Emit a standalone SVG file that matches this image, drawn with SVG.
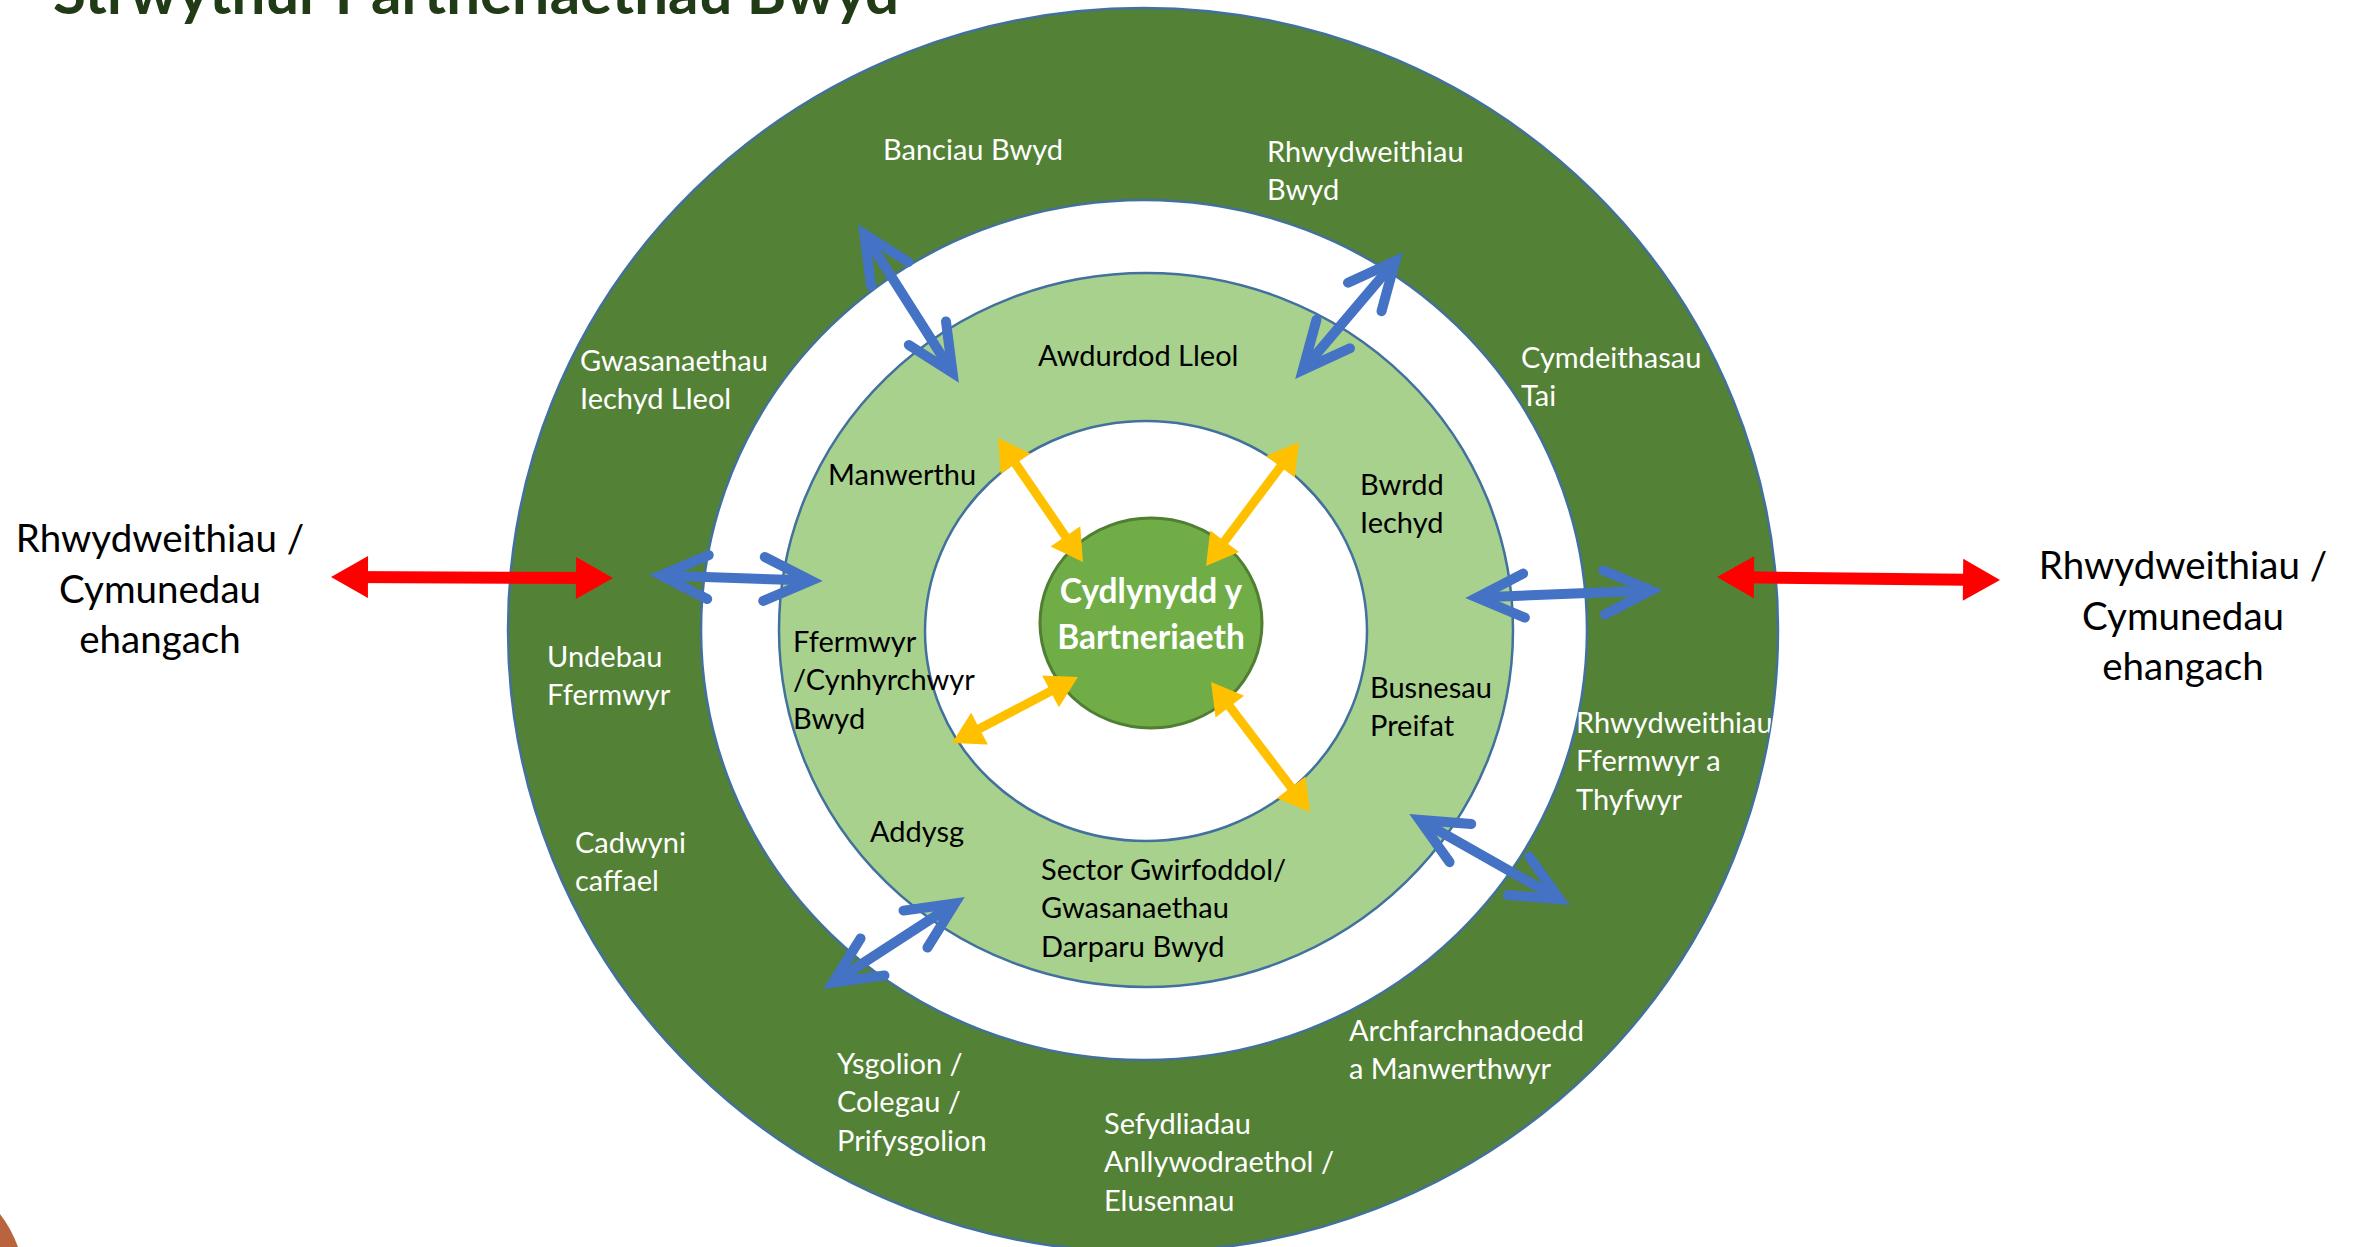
<svg xmlns="http://www.w3.org/2000/svg" width="2356" height="1247" viewBox="0 0 2356 1247">
  <style>
    text { font-family: Lato, "Open Sans", "Liberation Sans", sans-serif; }
    .ring { stroke: #41719C; stroke-width: 2.5; }
    .lw { fill: #ffffff; font-size: 29px; }
    .lb { fill: #000000; font-size: 29px; }
    .ctr { fill: #ffffff; font-size: 33.5px; font-weight: bold; text-anchor: middle; }
    .side { fill: #000000; font-size: 38.5px; text-anchor: middle; }
    .title { fill: #213B16; font-size: 60px; font-weight: bold; }
    .blue { stroke: #4472C4; stroke-width: 10; fill: none; marker-start: url(#mBlue); marker-end: url(#mBlue); }
    .yel { stroke: #FFC000; stroke-width: 9; fill: none; marker-start: url(#mYel); marker-end: url(#mYel); }
    .red { stroke: #FF0000; stroke-width: 12; fill: none; marker-start: url(#mRed); marker-end: url(#mRed); }
  </style>
  <defs>
    <marker id="mBlue" markerUnits="userSpaceOnUse" viewBox="-70 -40 100 80" markerWidth="100" markerHeight="80" refX="0" refY="0" orient="auto-start-reverse" overflow="visible">
      <path d="M -47,-22 L 0,0 L -47,22" fill="none" stroke="#4472C4" stroke-width="10" stroke-linecap="round" stroke-linejoin="miter"/>
    </marker>
    <marker id="mYel" markerUnits="userSpaceOnUse" viewBox="-40 -30 70 60" markerWidth="70" markerHeight="60" refX="0" refY="0" orient="auto-start-reverse" overflow="visible">
      <path d="M 10,0 L -21,-18 L -21,18 Z" fill="#FFC000"/>
    </marker>
    <marker id="mRed" markerUnits="userSpaceOnUse" viewBox="-40 -30 70 60" markerWidth="70" markerHeight="60" refX="0" refY="0" orient="auto-start-reverse" overflow="visible">
      <path d="M 12,0 L -25,-21 L -25,21 Z" fill="#FF0000"/>
    </marker>
    <clipPath id="outerClip">
      <ellipse cx="1143" cy="630" rx="635" ry="622"/>
    </clipPath>
  </defs>

  <rect width="2356" height="1247" fill="#ffffff"/>

  <!-- decorative corner shape -->
  <path d="M0,1214 Q11,1228 18,1247 L0,1247 Z" fill="#B9643F"/>

  <!-- title -->
  <text class="title" x="53" y="14">Strwythur Partneriaethau Bwyd</text>

  <!-- rings -->
  <g id="rings">
    <ellipse id="ring-outer" class="ring" cx="1143" cy="630" rx="635" ry="622" fill="#538135"/>
    <ellipse id="ring-gap" class="ring" cx="1144" cy="630" rx="443" ry="430" fill="#ffffff"/>
    <ellipse id="ring-light" class="ring" cx="1146" cy="630" rx="367" ry="357" fill="#A9D18E"/>
    <ellipse id="ring-inner" class="ring" cx="1146" cy="631" rx="221" ry="210" fill="#ffffff"/>
  </g>

  <g id="center">
    <ellipse cx="1151" cy="623" rx="111" ry="105" fill="#70AD47" stroke="#507E32" stroke-width="3"/>
    <text class="ctr" x="1151" y="603">Cydlynydd y</text>
    <text class="ctr" x="1151" y="649">Bartneriaeth</text>
  </g>

  <!-- connectors -->
  <g id="connectors">
    <line class="blue" x1="864.4" y1="234.1" x2="952.6" y2="372.9"/>
    <line class="blue" x1="1395.2" y1="261.1" x2="1302.8" y2="369.9"/>
    <line class="blue" x1="661" y1="575.4" x2="811" y2="580.6"/>
    <line class="blue" x1="1477" y1="597.5" x2="1651" y2="590.5"/>
    <line class="blue" x1="833.1" y1="982.5" x2="954.9" y2="903.5"/>
    <line class="blue" x1="1419.5" y1="819.9" x2="1559.5" y2="899.1"/>
    <line class="yel" x1="1003.7" y1="446.3" x2="1077.3" y2="553.7"/>
    <line class="yel" x1="1293" y1="450" x2="1212" y2="558"/>
    <line class="yel" x1="960.9" y1="738.4" x2="1069.1" y2="681.6"/>
    <line class="yel" x1="1217.1" y1="690" x2="1303.9" y2="804"/>
    <line class="red" x1="343" y1="577" x2="601" y2="578"/>
    <line class="red" x1="1729" y1="577.1" x2="1988" y2="579.9"/>
  </g>

  <!-- outer ring labels -->
  <g id="outer-labels" clip-path="url(#outerClip)">
    <g id="banciau-bwyd"><text class="lw" x="883" y="160">Banciau Bwyd</text></g>
    <g id="rhwydweithiau-bwyd"><text class="lw" x="1267" y="162">Rhwydweithiau<tspan x="1267" dy="38.4">Bwyd</tspan></text></g>
    <g id="gwasanaethau-iechyd"><text class="lw" x="580" y="371">Gwasanaethau<tspan x="580" dy="38.4">Iechyd Lleol</tspan></text></g>
    <g id="cymdeithasau-tai"><text class="lw" x="1521" y="368">Cymdeithasau<tspan x="1521" dy="38.4">Tai</tspan></text></g>
    <g id="undebau-ffermwyr"><text class="lw" x="547" y="667">Undebau<tspan x="547" dy="38.4">Ffermwyr</tspan></text></g>
    <g id="rhwydweithiau-ffermwyr"><text class="lw" x="1576" y="733">Rhwydweithiau<tspan x="1576" dy="38.4">Ffermwyr a</tspan><tspan x="1576" dy="38.4">Thyfwyr</tspan></text></g>
    <g id="cadwyni-caffael"><text class="lw" x="575" y="853">Cadwyni<tspan x="575" dy="38.4">caffael</tspan></text></g>
    <g id="archfarchnadoedd"><text class="lw" x="1349" y="1041">Archfarchnadoedd<tspan x="1349" dy="38.4">a Manwerthwyr</tspan></text></g>
    <g id="ysgolion"><text class="lw" x="837" y="1074">Ysgolion /<tspan x="837" dy="38.4">Colegau /</tspan><tspan x="837" dy="38.4">Prifysgolion</tspan></text></g>
    <g id="sefydliadau"><text class="lw" x="1104" y="1134">Sefydliadau<tspan x="1104" dy="38.4">Anllywodraethol /</tspan><tspan x="1104" dy="38.4">Elusennau</tspan></text></g>
  </g>

  <!-- middle ring labels -->
  <g id="middle-labels">
    <g id="awdurdod-lleol"><text class="lb" x="1038" y="366">Awdurdod Lleol</text></g>
    <g id="manwerthu"><text class="lb" x="828" y="485">Manwerthu</text></g>
    <g id="bwrdd-iechyd"><text class="lb" x="1360" y="495">Bwrdd<tspan x="1360" dy="38.4">Iechyd</tspan></text></g>
    <g id="ffermwyr-cynhyrchwyr"><text class="lb" x="793" y="652">Ffermwyr<tspan x="793" dy="38.4">/Cynhyrchwyr</tspan><tspan x="793" dy="38.4">Bwyd</tspan></text></g>
    <g id="busnesau-preifat"><text class="lb" x="1370" y="698">Busnesau<tspan x="1370" dy="38.4">Preifat</tspan></text></g>
    <g id="addysg"><text class="lb" x="870" y="842">Addysg</text></g>
    <g id="sector-gwirfoddol"><text class="lb" x="1041" y="880">Sector Gwirfoddol/<tspan x="1041" dy="38.4">Gwasanaethau</tspan><tspan x="1041" dy="38.4">Darparu Bwyd</tspan></text></g>
  </g>

  <!-- side labels -->
  <g id="wider-left"><text class="side" x="160" y="552">Rhwydweithiau /<tspan x="160" dy="50.5">Cymunedau</tspan><tspan x="160" dy="50.5">ehangach</tspan></text></g>
  <g id="wider-right"><text class="side" x="2183" y="579">Rhwydweithiau /<tspan x="2183" dy="50.5">Cymunedau</tspan><tspan x="2183" dy="50.5">ehangach</tspan></text></g>
</svg>
